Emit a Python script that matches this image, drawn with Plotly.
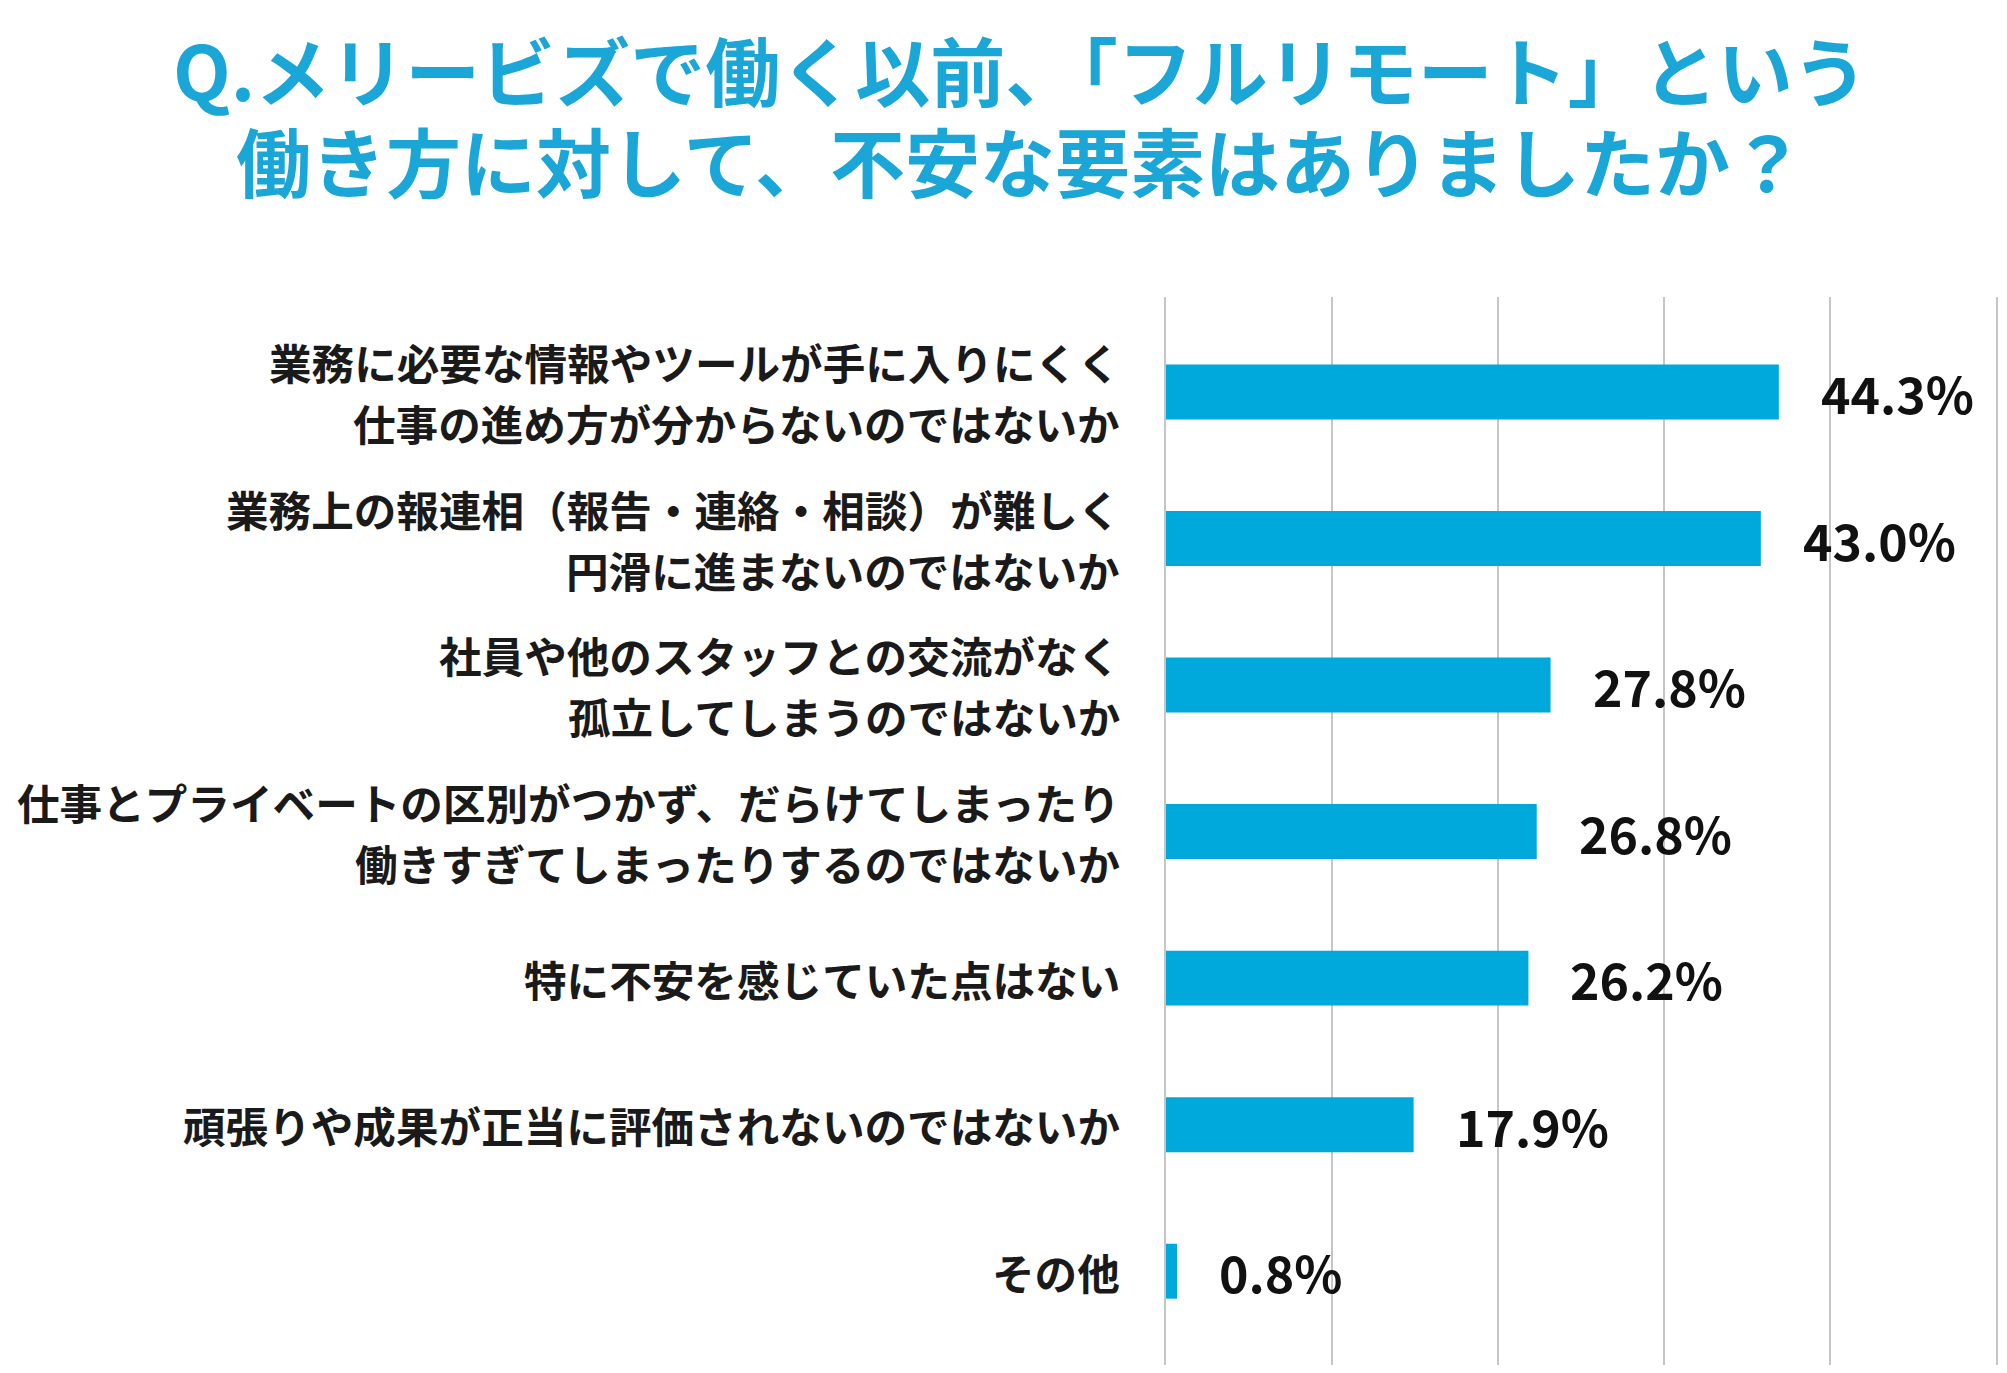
import plotly.graph_objects as go

# survey answers, top to bottom
categories = [
    '業務に必要な情報やツールが手に入りにくく<br>仕事の進め方が分からないのではないか',
    '業務上の報連相（報告・連絡・相談）が難しく<br>円滑に進まないのではないか',
    '社員や他のスタッフとの交流がなく<br>孤立してしまうのではないか',
    '仕事とプライベートの区別がつかず、だらけてしまったり<br>働きすぎてしまったりするのではないか',
    '特に不安を感じていた点はない',
    '頑張りや成果が正当に評価されないのではないか',
    'その他',
]
values = [44.3, 43.0, 27.8, 26.8, 26.2, 17.9, 0.8]
value_labels = ['44.3%', '43.0%', '27.8%', '26.8%', '26.2%', '17.9%', '0.8%']

title_lines = [
    'Q.メリービズで働く以前、「フルリモート」という',
    '働き方に対して、不安な要素はありましたか？',
]

BLUE = '#00a9db'
FONT = 'Noto Sans CJK JP'
# page body has an 8px margin, so the figure is a bit smaller than the window
W, H = 1991, 1357
L, R, T, B = 1158, 3, 289, 0
LINE_GAP = 61  # px between the two lines of a category label

fig = go.Figure()
fig.add_trace(go.Bar(
    x=values,
    y=categories,
    orientation='h',
    marker=dict(color=BLUE, line=dict(width=0)),
    width=0.375,
    hoverinfo='skip',
))

for cat, val, lab in zip(categories, values, value_labels):
    # value label right of the bar
    fig.add_annotation(
        x=val, y=cat, xref='x', yref='y',
        text='<b>%s</b>' % lab,
        showarrow=False,
        xanchor='left', yanchor='middle',
        xshift=40,
        font=dict(family=FONT, size=50, color='#111111'),
    )
    # category label, one annotation per line so the spacing can be set
    lines = cat.split('<br>')
    n = len(lines)
    for i, line in enumerate(lines):
        fig.add_annotation(
            x=0, y=cat, xref='paper', yref='y',
            text='<b>%s</b>' % line,
            showarrow=False,
            xanchor='right', yanchor='middle',
            xshift=-44,
            yshift=((n - 1) / 2 - i) * LINE_GAP,
            font=dict(family=FONT, size=42.6, color='#1a1a1a'),
        )

# two-line title, centred over the whole figure
plot_w = W - L - R
plot_h = H - T - B
for i, line in enumerate(title_lines):
    fig.add_annotation(
        x=(1012 - L) / plot_w, xref='paper',
        y=1 + (T - (61 + i * 90)) / plot_h, yref='paper',
        text='<b>%s</b>' % line,
        showarrow=False,
        xanchor='center', yanchor='middle',
        font=dict(family=FONT, size=75, color='#1aa6d6'),
    )

fig.update_layout(
    width=W,
    height=H,
    paper_bgcolor='white',
    plot_bgcolor='white',
    showlegend=False,
    margin=dict(l=L, r=R, t=T, b=B),
    font=dict(family=FONT),
)

fig.update_xaxes(
    range=[0, 60],
    dtick=12,
    showgrid=True,
    gridcolor='#c6c6c6',
    gridwidth=2,
    zeroline=False,
    showline=False,
    showticklabels=False,
    ticks='',
)
fig.update_yaxes(
    type='category',
    range=[6.64, -0.648],
    showgrid=False,
    zeroline=False,
    showline=True,
    mirror=True,
    linecolor='#c6c6c6',
    linewidth=2,
    ticks='',
    showticklabels=False,
)

fig.write_html('out.html')
